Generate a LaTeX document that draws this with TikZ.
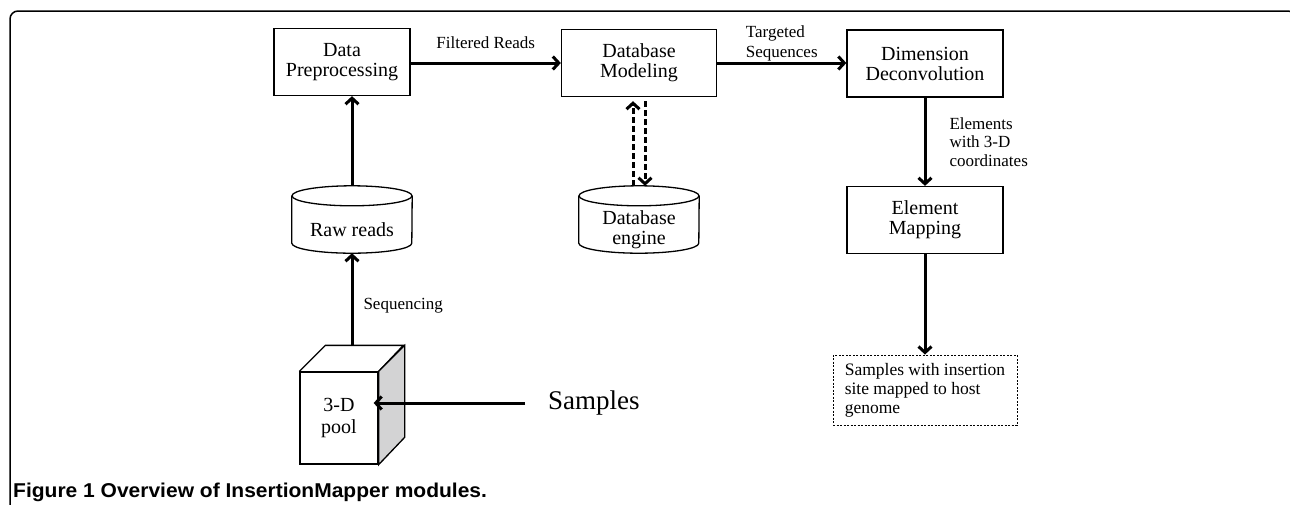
\documentclass[tikz,border=0pt]{standalone}
\usepackage{xcolor}
\usepackage{fontspec}
\setmainfont{Liberation Serif}
\newfontfamily\capfont{Liberation Sans}[FakeStretch=1.05]
\usepackage{tikz}
\usetikzlibrary{arrows.meta}

\definecolor{sidegray}{RGB}{211,211,212}

% database drum drawn round a named node (the node is the drum body)
\newcommand{\dbcyl}[1]{%
  \draw[line width=1.3pt] ([yshift=10pt]#1.north west) -- ([yshift=10pt]#1.south west)
    arc[start angle=180,end angle=360,x radius=60pt,y radius=10pt]
    -- ([yshift=10pt]#1.north east);
  \draw[line width=1.3pt] ([yshift=10pt]#1.north) ellipse[x radius=60pt,y radius=10pt];}

\begin{document}
\begin{tikzpicture}[x=1pt,y=-1pt,
  module/.style={draw,line width=1.3pt,minimum height=67pt,inner sep=2pt,align=center,font=\fontsize{20}{20}\selectfont},
  store/.style={minimum width=120pt,minimum height=47pt,inner sep=0pt,align=center,font=\fontsize{20}{20}\selectfont},
  lbl/.style={font=\fontsize{17}{20}\selectfont,align=left,inner sep=2pt},
  flow/.style={line width=3pt,-{Straight Barb[length=6pt,width=13pt]}},
  dflow/.style={flow,dash pattern=on 6pt off 3pt}]
\useasboundingbox (0,0) rectangle (1290,504);
\draw[line width=1.5pt,rounded corners=8pt] (10,520) -- (10,11) -- (1296,11) -- (1296,520);

\node[module,minimum width=136pt] (prep) at (342,62) {Data\\Preprocessing};
\node[module,minimum width=155pt] (model) at (639,63) {Database\\Modeling};
\node[module,minimum width=156pt] (deconv) at (925,63.5) {Dimension\\Deconvolution};
\node[module,minimum width=156pt] (emap) at (925,220) {Element\\Mapping};
\node[store] (raw) at (352,229.5) {Raw reads};
\node[store] (engine) at (639,229.5) {Database\\engine};
\dbcyl{raw}
\dbcyl{engine}
\node[draw,line width=0.9pt,dash pattern=on 2pt off 1.5pt,minimum width=184pt,minimum height=70pt,align=left,font=\fontsize{17.5}{19}\selectfont] (result) at (925,390) {Samples with insertion\\site mapped to host\\genome};

% the 3-D pool cube
\node[draw,fill=white,line width=1.3pt,minimum width=78pt,minimum height=92pt,align=center,font=\fontsize{20}{22}\selectfont] (pool) at (339,418) {3-D\\pool};
\draw[line width=1.3pt] (pool.north west) -- ++(26,-26) -- ++(78,0) -- (pool.north east);
\draw[line width=1.3pt,fill=sidegray] (pool.north east) -- ++(26,-26) -- ++(0,92) -- (pool.south east) -- cycle;
\coordinate (pooltop) at (352,346);
\node[anchor=west,inner xsep=23pt,inner ysep=0pt,font=\fontsize{27}{30}\selectfont] (samples) at (525,403) {Samples};

\path (samples.west) edge[flow,shorten >=-5pt] (samples.west -| pool.east);
\path (pooltop) edge[flow] node[lbl,right=8pt,pos=.43] {Sequencing} (raw.south);
\path ([yshift=20pt]raw.north) edge[flow] (raw.north |- prep.south);
\path (model.west -| prep.east) edge[flow] node[lbl,above=11pt] {Filtered Reads} (model.west);
\path (model.east) edge[flow] node[lbl,above=0pt,inner sep=0pt] {Targeted\\Sequences} (model.east -| deconv.west);
\path ([xshift=-6pt,yshift=20pt]engine.north) edge[dflow] ([xshift=-6pt,yshift=-4pt]model.south);
\path ([xshift=6pt,yshift=-4pt]model.south) edge[dflow] ([xshift=6pt,yshift=20pt]engine.north);
\path (deconv.south) edge[flow] node[lbl,right=21pt,font=\fontsize{17}{18.5}\selectfont] {Elements\\with 3-D\\coordinates} (emap.north);
\path (emap.south) edge[flow] (result.north);

\node[anchor=base west,inner sep=0pt,font=\capfont\bfseries\fontsize{20}{24}\selectfont] (caption) at (13,497) {Figure 1 Overview of InsertionMapper modules.};
\end{tikzpicture}
\end{document}
